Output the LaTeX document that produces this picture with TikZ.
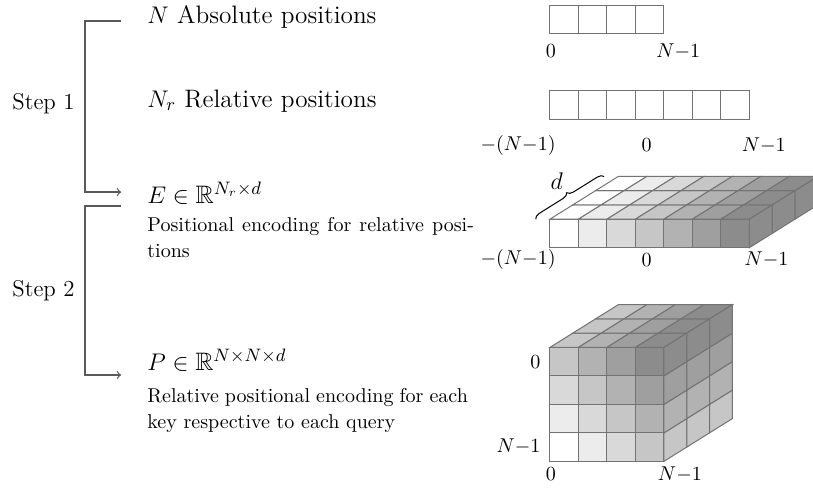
\documentclass[tikz,border=0pt]{standalone}
\usepackage{amssymb}
\usetikzlibrary{decorations.pathreplacing}

\tikzset{
  cell/.style={draw=black!55, line width=0.5pt},
  bracket/.style={draw=black!65, line width=0.6pt},
  main/.style={anchor=base west, inner sep=0pt, font=\fontsize{12.6}{15}\selectfont},
  steplbl/.style={anchor=base east, inner sep=0pt, font=\fontsize{11.4}{13.5}\selectfont},
  desc/.style={anchor=north west, inner sep=0pt, align=justify,
    font=\fontsize{10}{13.1}\selectfont},
  idx/.style={inner sep=0pt}
}

\begin{document}
\begin{tikzpicture}[scale=0.5]
  \useasboundingbox (0,0) rectangle (28.53,17.09);
  % Step brackets.
  \coordinate (s1top) at (4.25,16.35);
  \coordinate (s1bot) at (4.25,10.35);
  \coordinate (s2top) at (4.25,9.86);
  \coordinate (s2bot) at (4.25,3.93);
  \draw[bracket, ->] (s1top) -- ++(-1.27,0) |- (s1bot);
  \draw[bracket, ->] (s2top) -- ++(-1.27,0) |- (s2bot);
  \node[steplbl] (step1) at (2.63,13.23) {Step 1};
  \node[steplbl] (step2) at (2.63,6.68) {Step 2};

  % Texts on the left.
  \node[main] (absN) at (5.16,16.25) {$N$ Absolute positions};
  \node[main] (relN) at (5.16,13.33) {$N_r$ Relative positions};
  \node[main] (encE) at (5.16,9.965) {$E \in \mathbb{R}^{N_r \times d}$};
  \node[desc, text width=163pt] (encEtxt) at (5.16,9.47)
    {Positional encoding for relative positions};
  \node[main] (encP) at (5.16,4.105) {$P \in \mathbb{R}^{N \times N \times d}$};
  \node[desc, text width=160pt] (encPtxt) at (5.16,3.48)
    {Relative positional encoding for each key respective to each query};

  % Absolute positions.
  \foreach \c in {0,...,3}
    \draw[cell] (19.3+\c,15.9) rectangle ++(1,1);
  \node[idx] (abs0) at (19.33,15.3) {$0$};
  \node[idx] (absE) at (23.8,15.3) {$N{-}1$};

  % Relative positions.
  \foreach \c in {0,...,6}
    \draw[cell] (19.3+\c,12.9) rectangle ++(1,1);
  \node[idx] (rel0) at (18.18,12.0) {$-(N{-}1)$};
  \node[idx] (rel1) at (22.69,12.0) {$0$};
  \node[idx] (rel2) at (26.8,12.0) {$N{-}1$};

  % Encoding slab E.
  \begin{scope}[shift={(19.3,8.4)}]
    \foreach \c in {0,...,6} {
      \pgfmathsetmacro{\p}{7.5*\c}
      \filldraw[cell, fill=black!\p] (\c,0) rectangle ++(1,1);
      \foreach \k in {0,1,2}
        \filldraw[cell, fill=black!\p] (\c+0.8*\k,1+0.5*\k) -- ++(1,0) -- ++(0.8,0.5) -- ++(-1,0) -- cycle;
    }
    \foreach \k in {0,1,2}
      \filldraw[cell, fill=black!45] (7+0.8*\k,0.5*\k) -- ++(0.8,0.5) -- ++(0,1) -- ++(-0.8,-0.5) -- cycle;
  \end{scope}
  \coordinate (dA) at (18.8,9.4);
  \coordinate (dB) at (21.2,10.9);
  \draw[decorate, decoration={brace, amplitude=3pt}, line width=0.5pt] (dA) -- (dB);
  \node[idx, font=\large] (dlbl) at (19.54,10.74) {$d$};
  \node[idx] (enc0) at (18.18,7.97) {$-(N{-}1)$};
  \node[idx] (enc1) at (22.69,7.97) {$0$};
  \node[idx] (enc2) at (26.9,7.97) {$N{-}1$};

  % Encoding cube P.
  \begin{scope}[shift={(19.3,0.9)}]
    \foreach \c in {0,...,3}
      \foreach \r in {0,...,3} {
        \pgfmathsetmacro{\p}{7.5*(\c+\r)}
        \filldraw[cell, fill=black!\p] (\c,\r) rectangle ++(1,1);
      }
    \foreach \c in {0,...,3} {
      \pgfmathsetmacro{\p}{7.5*(\c+3)}
      \foreach \k in {0,1,2}
        \filldraw[cell, fill=black!\p] (\c+0.8*\k,4+0.5*\k) -- ++(1,0) -- ++(0.8,0.5) -- ++(-1,0) -- cycle;
    }
    \foreach \r in {0,...,3} {
      \pgfmathsetmacro{\p}{7.5*(\r+3)}
      \foreach \k in {0,1,2}
        \filldraw[cell, fill=black!\p] (4+0.8*\k,\r+0.5*\k) -- ++(0.8,0.5) -- ++(0,1) -- ++(-0.8,-0.5) -- cycle;
    }
  \end{scope}
  \node[idx, anchor=east] (row0) at (18.98,4.4) {$0$};
  \node[idx, anchor=east] (rowE) at (18.98,1.43) {$N{-}1$};
  \node[idx] (col0) at (19.33,0.44) {$0$};
  \node[idx] (colE) at (23.86,0.44) {$N{-}1$};
\end{tikzpicture}
\end{document}
